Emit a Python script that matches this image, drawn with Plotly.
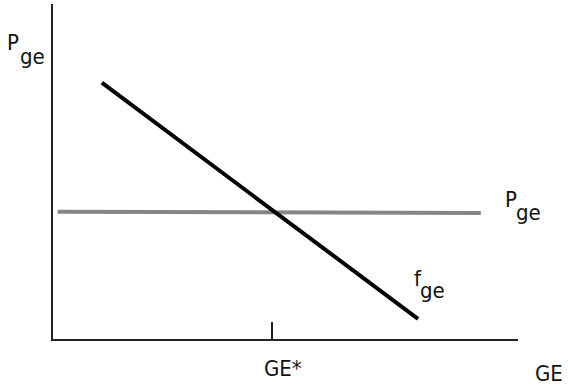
import plotly.graph_objects as go

# schematic market for GE: demand curve f_ge and flat price P_ge
demand_x = [1.05, 7.85]
demand_y = [7.65, 0.60]
price_x = [0.10, 9.20]
price_y = [3.80, 3.76]
eq_tick = [4.7]

FONT = "Liberation Sans Narrow, DejaVu Sans Condensed, Liberation Sans, sans-serif"
W, H = 568, 387
L, R, T, B = 53, 50, 4, 48


def px(x, y):
    # pixel position -> paper coords
    return (x - L) / (W - L - R), (H - B - y) / (H - T - B)


fig = go.Figure()
fig.add_trace(go.Scatter(x=price_x, y=price_y, mode="lines",
                         line=dict(color="#858585", width=4), hoverinfo="skip"))
fig.add_trace(go.Scatter(x=demand_x, y=demand_y, mode="lines",
                         line=dict(color="#000000", width=4), hoverinfo="skip"))

labels = [
    ("P", 13, 43), ("ge", 32, 56),
    ("P", 511, 199), ("ge", 528, 212),
    ("f", 418, 278), ("ge", 432, 290),
    ("GE*", 283, 368), ("GE", 549, 373),
]
for txt, x, y in labels:
    xp, yp = px(x, y)
    fig.add_annotation(x=xp, y=yp, xref="paper", yref="paper", text=txt,
                       showarrow=False, xanchor="center", yanchor="middle",
                       font=dict(family=FONT, size=22, color="#111"))

fig.update_layout(
    width=W, height=H,
    margin=dict(l=L, r=R, t=T, b=B),
    paper_bgcolor="white", plot_bgcolor="white",
    showlegend=False,
    xaxis=dict(range=[0, 10], showgrid=False, zeroline=False,
               showline=True, linecolor="#222", linewidth=2,
               tickvals=eq_tick, ticktext=[""], ticks="inside",
               ticklen=17, tickwidth=1.5, tickcolor="#222"),
    yaxis=dict(range=[0, 10], showgrid=False, zeroline=False,
               showline=True, linecolor="#222", linewidth=2,
               showticklabels=False, ticks=""),
)

# drop the default 8px page margin so the figure sits at the window corner
fig.write_html("out.html", config={"displayModeBar": False},
               post_script="document.body.style.margin='0';")
